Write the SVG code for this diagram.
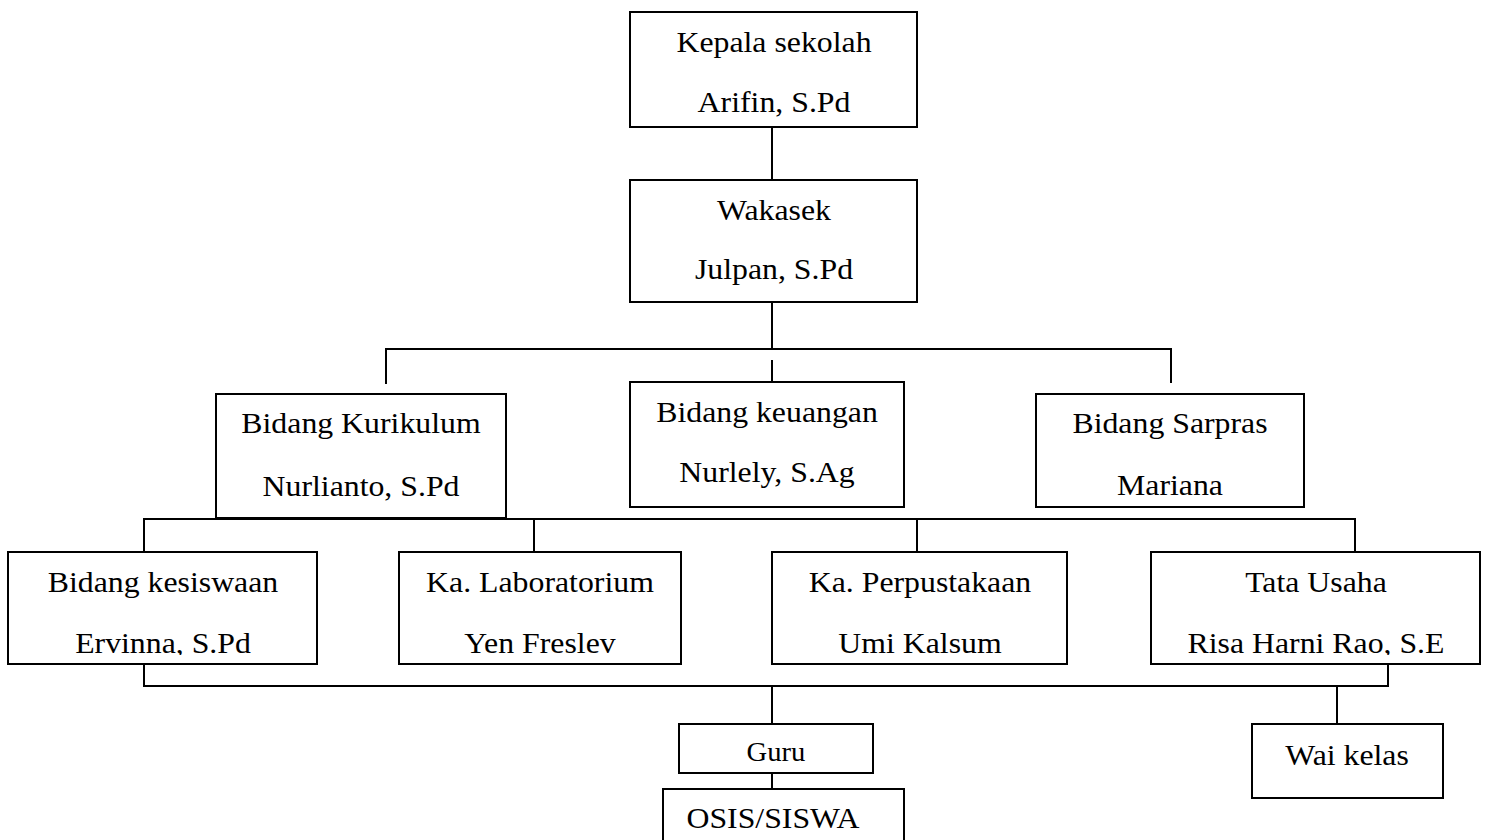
<svg xmlns="http://www.w3.org/2000/svg" width="1489" height="840" viewBox="0 0 1489 840">
<style>
.box{fill:#fff;stroke:#000;stroke-width:2}
.t{font-family:"Liberation Serif","Times New Roman",serif;font-size:30px;fill:#000;text-anchor:middle}
.s{font-size:27px}
.c line{stroke:#000;stroke-width:2}
</style>
<defs>
<clipPath id="cut"><rect x="0" y="0" width="1489" height="655"/></clipPath>
</defs>
<rect width="1489" height="840" fill="#fff"/>
<g class="c" id="connectors">
<line x1="772" y1="127" x2="772" y2="180"/>
<line x1="772" y1="302" x2="772" y2="349"/>
<line x1="385" y1="349" x2="1172" y2="349"/>
<line x1="386" y1="349" x2="386" y2="384"/>
<line x1="772" y1="360" x2="772" y2="382"/>
<line x1="1171" y1="349" x2="1171" y2="383"/>
<line x1="143" y1="519" x2="1356" y2="519"/>
<line x1="144" y1="519" x2="144" y2="552"/>
<line x1="534" y1="519" x2="534" y2="552"/>
<line x1="917" y1="519" x2="917" y2="552"/>
<line x1="1355" y1="519" x2="1355" y2="552"/>
<line x1="144" y1="664" x2="144" y2="686"/>
<line x1="1388" y1="664" x2="1388" y2="686"/>
<line x1="143" y1="686" x2="1389" y2="686"/>
<line x1="772" y1="686" x2="772" y2="724"/>
<line x1="1337" y1="686" x2="1337" y2="724"/>
<line x1="772" y1="773" x2="772" y2="789"/>
</g>
<g id="kepala">
<rect class="box" x="630" y="12" width="287" height="115"/>
<text class="t" transform="translate(774,52) scale(1.06,1)">Kepala sekolah</text>
<text class="t" transform="translate(774,112) scale(1.06,1)">Arifin, S.Pd</text>
</g>
<g id="wakasek">
<rect class="box" x="630" y="180" width="287" height="122"/>
<text class="t" transform="translate(774,220) scale(1.06,1)">Wakasek</text>
<text class="t" transform="translate(774,279) scale(1.06,1)">Julpan, S.Pd</text>
</g>
<g id="kurikulum">
<rect class="box" x="216" y="394" width="290" height="124"/>
<text class="t" transform="translate(361,433) scale(1.06,1)">Bidang Kurikulum</text>
<text class="t" transform="translate(361,496) scale(1.06,1)">Nurlianto, S.Pd</text>
</g>
<g id="keuangan">
<rect class="box" x="630" y="382" width="274" height="125"/>
<text class="t" transform="translate(767,422) scale(1.06,1)">Bidang keuangan</text>
<text class="t" transform="translate(767,482) scale(1.06,1)">Nurlely, S.Ag</text>
</g>
<g id="sarpras">
<rect class="box" x="1036" y="394" width="268" height="113"/>
<text class="t" transform="translate(1170,433) scale(1.06,1)">Bidang Sarpras</text>
<text class="t" transform="translate(1170,495) scale(1.06,1)">Mariana</text>
</g>
<g id="kesiswaan">
<rect class="box" x="8" y="552" width="309" height="112"/>
<text class="t" transform="translate(163,592) scale(1.06,1)">Bidang kesiswaan</text>
<g clip-path="url(#cut)"><text class="t" transform="translate(163,653) scale(1.06,1)">Ervinna, S.Pd</text></g>
</g>
<g id="laboratorium">
<rect class="box" x="399" y="552" width="282" height="112"/>
<text class="t" transform="translate(540,592) scale(1.06,1)">Ka. Laboratorium</text>
<g clip-path="url(#cut)"><text class="t" transform="translate(540,653) scale(1.06,1)">Yen Freslev</text></g>
</g>
<g id="perpustakaan">
<rect class="box" x="772" y="552" width="295" height="112"/>
<text class="t" transform="translate(920,592) scale(1.06,1)">Ka. Perpustakaan</text>
<g clip-path="url(#cut)"><text class="t" transform="translate(920,653) scale(1.06,1)">Umi Kalsum</text></g>
</g>
<g id="tatausaha">
<rect class="box" x="1151" y="552" width="329" height="112"/>
<text class="t" transform="translate(1316,592) scale(1.06,1)">Tata Usaha</text>
<g clip-path="url(#cut)"><text class="t" transform="translate(1316,653) scale(1.06,1)">Risa Harni Rao, S.E</text></g>
</g>
<g id="guru">
<rect class="box" x="679" y="724" width="194" height="49"/>
<text class="t s" transform="translate(776,761) scale(1.06,1)">Guru</text>
</g>
<g id="walikelas">
<rect class="box" x="1252" y="724" width="191" height="74"/>
<text class="t" transform="translate(1347,765) scale(1.06,1)">Wai kelas</text>
</g>
<g id="osis">
<rect class="box" x="663" y="789" width="241" height="80"/>
<text class="t" transform="translate(773,828) scale(1.06,1)">OSIS/SISWA</text>
</g>
</svg>
